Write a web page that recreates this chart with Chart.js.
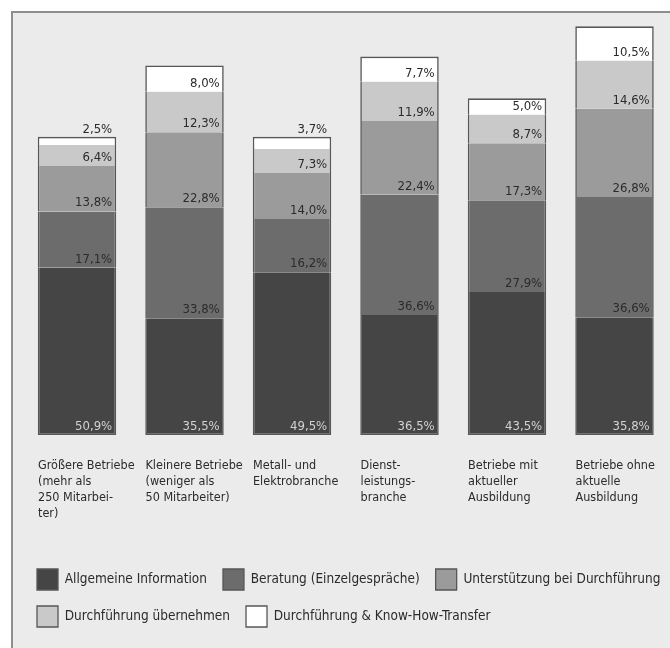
<!DOCTYPE html>
<html lang="de">
<head>
<meta charset="utf-8">
<title>Betriebe – Unterstützungsformen</title>
<script src="https://cdn.jsdelivr.net/npm/chart.js@4/dist/chart.umd.min.js"></script>
<style>
  html, body { margin: 0; padding: 0; background: #ffffff; overflow: hidden; width: 670px; height: 648px; }
  #frame { position: absolute; left: 11px; top: 11px; width: 760px; height: 700px;
           background: #ebebeb; border: 2px solid #8e8e8e; box-sizing: border-box; }
  #c { position: absolute; left: 0; top: 0; }
</style>
</head>
<body>
<div id="frame"></div>
<canvas id="c" width="760" height="648"></canvas>
<script>
// ---- data ----
const categories = [
  ["Größere Betriebe", "(mehr als", "250 Mitarbei-", "ter)"],
  ["Kleinere Betriebe", "(weniger als", "50 Mitarbeiter)"],
  ["Metall- und", "Elektrobranche"],
  ["Dienst-", "leistungs-", "branche"],
  ["Betriebe mit", "aktueller", "Ausbildung"],
  ["Betriebe ohne", "aktuelle", "Ausbildung"]
];
const seriesNames = [
  "Allgemeine Information",
  "Beratung (Einzelgespräche)",
  "Unterstützung bei Durchführung",
  "Durchführung übernehmen",
  "Durchführung & Know-How-Transfer"
];
const allgemeineInformation = [50.9, 35.5, 49.5, 36.5, 43.5, 35.8];
const beratung = [17.1, 33.8, 16.2, 36.6, 27.9, 36.6];
const unterstuetzung = [13.8, 22.8, 14.0, 22.4, 17.3, 26.8];
const durchfuehrungUebernehmen = [6.4, 12.3, 7.3, 11.9, 8.7, 14.6];
const knowHowTransfer = [2.5, 8.0, 3.7, 7.7, 5.0, 10.5];

// ---- font selection (prefer a narrow face, size to the reference text widths) ----
const mctx = document.createElement("canvas").getContext("2d");
function width(font, txt) { mctx.font = font; return mctx.measureText(txt).width; }
function hasFont(name) {
  const probe = "Größere Betriebe Wg 0123";
  return width("40px '" + name + "', monospace", probe) !== width("40px monospace", probe) ||
         width("40px '" + name + "', serif", probe) !== width("40px serif", probe);
}
const candidates = ["Liberation Sans Narrow", "Arial Narrow", "DejaVu Sans Condensed", "Liberation Sans"];
let FAMILY = "sans-serif";
for (const c of candidates) { if (hasFont(c)) { FAMILY = "'" + c + "', sans-serif"; break; } }
function fitSize(txt, target) {
  const w = width("20px " + FAMILY, txt);
  return Math.round(20 * target / w * 2) / 2;
}
const legendSize = fitSize("Allgemeine Information", 144);
const catSize = fitSize("Größere Betriebe", 97);
const valueSize = fitSize("50,9%", 37);

// ---- styles ----
const fills = ["#454545", "#6c6c6c", "#9b9b9b", "#c9c9c9", "#ffffff"];
const labelColors = ["#d2d2d2", "#2b2b2b", "#2b2b2b", "#2b2b2b", "#2b2b2b"];
const seriesValues = [allgemeineInformation, beratung, unterstuetzung, durchfuehrungUebernehmen, knowHowTransfer];
const bw = 1.6;
const borders = [
  {left: bw, right: bw, top: 0, bottom: bw},
  {left: bw, right: bw, top: 0, bottom: 0},
  {left: bw, right: bw, top: 0, bottom: 0},
  {left: bw, right: bw, top: 0, bottom: 0},
  {left: bw, right: bw, top: bw, bottom: 0}
];

const datasets = seriesValues.map((vals, i) => ({
  label: seriesNames[i],
  data: vals,
  backgroundColor: fills[i],
  borderColor: "#575757",
  borderWidth: borders[i],
  borderSkipped: false,
  categoryPercentage: 1.0,
  barPercentage: 0.73
}));

const fmt = v => v.toFixed(1).replace(".", ",") + "%";

const valueLabels = {
  id: "valueLabels",
  afterDatasetsDraw(chart) {
    const ctx = chart.ctx;
    ctx.save();
    ctx.font = valueSize + "px " + FAMILY;
    ctx.textAlign = "right";
    ctx.textBaseline = "alphabetic";
    chart.data.datasets.forEach((ds, i) => {
      const meta = chart.getDatasetMeta(i);
      meta.data.forEach((el, j) => {
        const p = el.getProps(["x", "y", "base", "width"], true);
        const h = p.base - p.y;
        const xr = p.x + p.width / 2 - 4;
        if (h >= 16) {
          ctx.fillStyle = labelColors[i];
          ctx.fillText(fmt(ds.data[j]), xr, p.base - 5);
        } else {
          ctx.fillStyle = "#2b2b2b";
          ctx.fillText(fmt(ds.data[j]), xr, p.y - 4);
        }
      });
    });
    ctx.restore();
  }
};

new Chart(document.getElementById("c"), {
  type: "bar",
  data: { labels: categories, datasets },
  options: {
    responsive: false,
    animation: false,
    devicePixelRatio: 1,
    layout: { padding: { left: 21, right: 0, top: 24, bottom: 11 } },
    plugins: {
      tooltip: { enabled: false },
      legend: {
        position: "bottom",
        align: "start",
        labels: {
          font: { family: FAMILY, size: legendSize },
          color: "#2b2b2b",
          boxWidth: 21,
          boxHeight: 21,
          padding: 16,
          generateLabels(chart) {
            const items = Chart.defaults.plugins.legend.labels.generateLabels(chart);
            items.forEach(it => { it.lineWidth = 1.3; it.strokeStyle = "#575757"; });
            return items;
          }
        }
      }
    },
    scales: {
      x: {
        stacked: true,
        grid: { display: false, drawTicks: false },
        border: { display: false },
        ticks: {
          align: "start",
          labelOffset: -39,
          padding: 23,
          autoSkip: false,
          maxRotation: 0,
          color: "#2b2b2b",
          font: { family: FAMILY, size: catSize, lineHeight: "16px" }
        },
        afterFit(s) { s.height = 118; }
      },
      y: {
        stacked: true,
        min: 0,
        max: 125,
        position: "left",
        grid: { display: false, drawTicks: false },
        border: { display: false },
        ticks: { display: false },
        afterFit(s) { s.width = 2.25; }
      },
      y2: {
        type: "linear",
        position: "right",
        grid: { display: false, drawTicks: false },
        border: { display: false },
        ticks: { display: false },
        afterFit(s) { s.width = 91.75; }
      }
    }
  },
  plugins: [valueLabels]
});
</script>
</body>
</html>
